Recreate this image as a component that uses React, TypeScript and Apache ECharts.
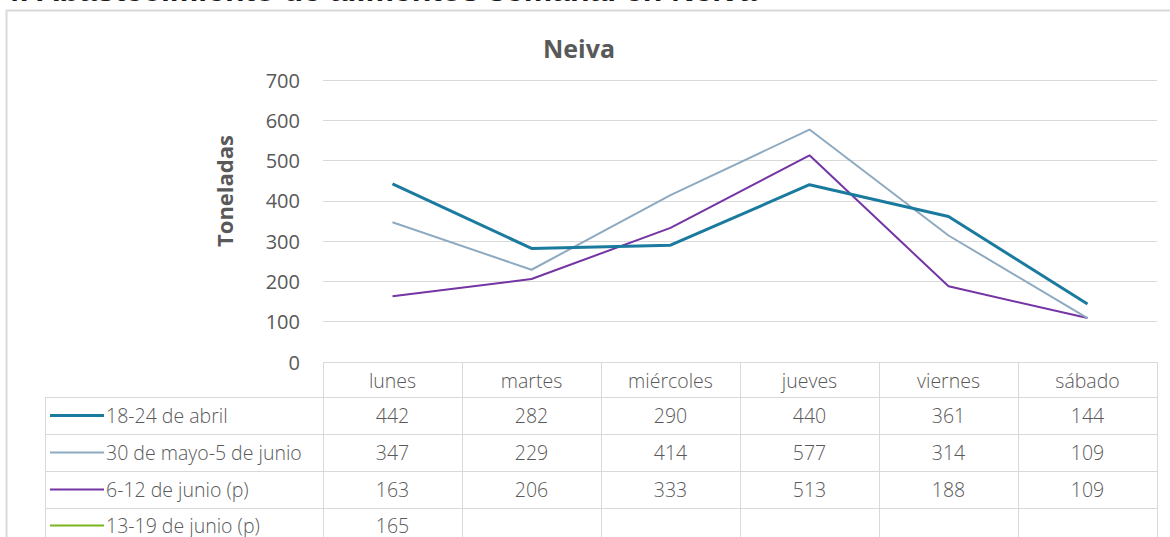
import React, { useEffect, useRef } from "react";
import * as echarts from "echarts";

const categories = ["lunes", "martes", "miércoles", "jueves", "viernes", "sábado"];
const seriesNames = ["18-24 de abril", "30 de mayo-5 de junio", "6-12 de junio (p)", "13-19 de junio (p)"];
const abril18 = [442, 282, 290, 440, 361, 144];
const mayo30 = [347, 229, 414, 577, 314, 109];
const junio6 = [163, 206, 333, 513, 188, 109];
const junio13: (number | null)[] = [165, null, null, null, null, null];
const seriesData = [abril18, mayo30, junio6, junio13];
const seriesColors = ["#1b7b9f", "#8eaac0", "#7434a4", "#7ab51d"];
const seriesWidths = [3, 2, 2, 2];

const W = 1170;
const H = 537;
const PLOT_L = 323;
const PLOT_R = 1157;
const PLOT_T = 80;
const PLOT_B = 362;
const ROW_H = 37;
const HEAD_B = 397;
const LEG_L = 45;
const FONT = "'Open Sans', 'Liberation Sans', sans-serif";
const GRID_C = "#d9d9d9";
const TEXT_C = "#595959";

export default function App() {
  const ref = useRef<HTMLDivElement>(null);
  useEffect(() => {
    if (!ref.current) return;
    const chart = echarts.init(ref.current, null, { renderer: "svg" });
    const cellW = (PLOT_R - PLOT_L) / categories.length;
    const g: any[] = [];
    // outer border
    g.push({ type: "rect", shape: { x: 6.5, y: 10.5, width: W, height: H }, style: { fill: "none", stroke: GRID_C, lineWidth: 2 }, silent: true });
    // cut-off top title (only its lower edge is visible in the reference)
    g.push({
      type: "text", x: 2, y: 6,
      style: { text: "4. Abastecimiento de alimentos semanal en Neiva", font: `bold 32px 'Liberation Sans', sans-serif`, fill: "#1a1a1a", verticalAlign: "bottom", align: "left" },
    });
    // table lines
    for (let i = 0; i <= categories.length; i++) {
      const x = Math.round(PLOT_L + i * cellW) + 0.5;
      g.push({ type: "line", shape: { x1: x, y1: PLOT_B, x2: x, y2: H + 5 }, style: { stroke: GRID_C, lineWidth: 1 } });
    }
    g.push({ type: "line", shape: { x1: LEG_L + 0.5, y1: HEAD_B, x2: LEG_L + 0.5, y2: H + 5 }, style: { stroke: GRID_C, lineWidth: 1 } });
    g.push({ type: "line", shape: { x1: PLOT_L, y1: PLOT_B + 0.5, x2: PLOT_R, y2: PLOT_B + 0.5 }, style: { stroke: GRID_C, lineWidth: 1 } });
    for (let r = 0; r < 4; r++) {
      const y = HEAD_B + r * ROW_H + 0.5;
      g.push({ type: "line", shape: { x1: LEG_L, y1: y, x2: PLOT_R, y2: y }, style: { stroke: GRID_C, lineWidth: 1 } });
    }
    const cellFont = `300 19.5px ${FONT}`;
    // header
    categories.forEach((c, i) => {
      g.push({ type: "text", x: PLOT_L + (i + 0.5) * cellW, y: (PLOT_B + HEAD_B) / 2 + 1, style: { text: c, font: cellFont, fill: TEXT_C, align: "center", verticalAlign: "middle" } });
    });
    // rows
    seriesNames.forEach((name, r) => {
      const cy = HEAD_B + (r + 0.5) * ROW_H - (r === 3 ? 1 : 0);
      g.push({ type: "line", shape: { x1: 50, y1: cy, x2: 104, y2: cy }, style: { stroke: seriesColors[r], lineWidth: seriesWidths[r] } });
      g.push({ type: "text", x: 106, y: cy, style: { text: name, font: cellFont, fill: TEXT_C, align: "left", verticalAlign: "middle" } });
      seriesData[r].forEach((v, i) => {
        if (v == null) return;
        g.push({ type: "text", x: PLOT_L + (i + 0.5) * cellW, y: cy, style: { text: String(v), font: cellFont, fill: TEXT_C, align: "center", verticalAlign: "middle" } });
      });
    });

    chart.setOption({
      animation: false,
      backgroundColor: "#ffffff",
      title: {
        text: "Neiva", left: 574, top: 30, textAlign: "center",
        textStyle: { fontFamily: FONT, fontSize: 25, fontWeight: "bold", color: TEXT_C },
      },
      grid: { left: PLOT_L, right: W - PLOT_R, top: PLOT_T, bottom: H - PLOT_B },
      xAxis: {
        type: "category", data: categories, boundaryGap: true,
        axisLine: { show: false }, axisTick: { show: false }, axisLabel: { show: false },
      },
      yAxis: {
        type: "value", min: 0, max: 700, interval: 100,
        name: "Toneladas", nameLocation: "middle", nameGap: 88, nameRotate: 90,
        nameTextStyle: { fontFamily: FONT, fontSize: 22, fontWeight: "bold", color: TEXT_C, padding: [0, 0, 0, 60] },
        axisLine: { show: false }, axisTick: { show: false },
        axisLabel: { margin: 23, fontFamily: FONT, fontSize: 20, color: TEXT_C },
        splitLine: { lineStyle: { color: GRID_C, width: 1 } },
      },
      series: seriesData.map((d, i) => ({
        name: seriesNames[i], type: "line", data: d, showSymbol: false, symbol: "none",
        lineStyle: { color: seriesColors[i], width: seriesWidths[i] }, itemStyle: { color: seriesColors[i] },
        z: 10 - i,
      })),
      graphic: g,
    });
    return () => chart.dispose();
  }, []);
  return <div ref={ref} style={{ position: "absolute", left: 0, top: 0, width: W, height: H, background: "#fff" }} />;
}
